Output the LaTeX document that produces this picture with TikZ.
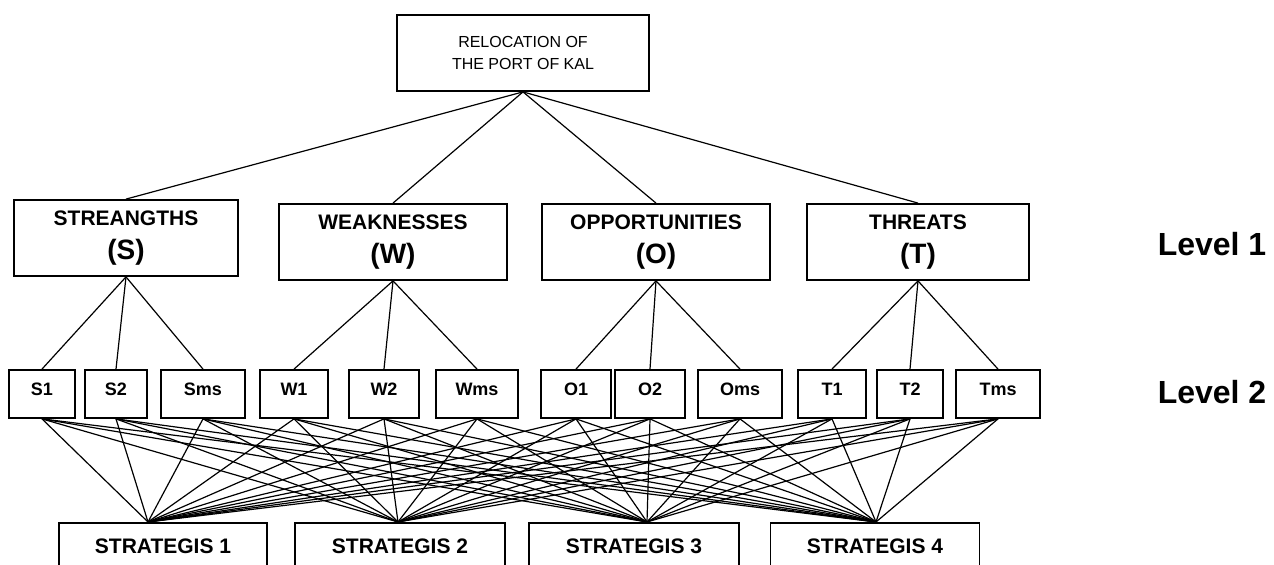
\documentclass[tikz,border=0pt]{standalone}
\usepackage{fontspec}
\setmainfont{Liberation Sans}
\usepackage{tikz}
\usetikzlibrary{positioning}

\begin{document}
\begin{tikzpicture}[x=0.5pt,y=-0.5pt,
    box/.style={draw,line width=0.9pt,inner sep=0pt,align=center},
    goal/.style={box,minimum width=126pt,minimum height=38pt,font=\fontsize{8}{11.3}\selectfont},
    factor/.style={box,minimum height=38pt,font=\fontsize{14}{17.25}\selectfont\bfseries},
    sub/.style={box,minimum height=24pt,text height=6.5pt,text depth=5pt,font=\fontsize{9}{11}\selectfont\bfseries},
    strat/.style={box,anchor=north,minimum height=23pt,font=\fontsize{10.5}{12.6}\selectfont\bfseries},
    level/.style={font=\fontsize{16}{19}\selectfont\bfseries},
    link/.style={line width=0.6pt}]
  \useasboundingbox (0,0) rectangle (1274,565);

  \node[goal] (top) at (523,53) {RELOCATION OF\\THE PORT OF KAL};

  \node[factor,minimum width=112pt] (s) at (126,238) {{\fontsize{10.5}{12.6}\selectfont STREANGTHS}\\(S)};
  \node[factor,minimum width=114pt] (w) at (393,242) {{\fontsize{10.5}{12.6}\selectfont WEAKNESSES}\\(W)};
  \node[factor,minimum width=114pt] (o) at (656,242) {{\fontsize{10.5}{12.6}\selectfont OPPORTUNITIES}\\(O)};
  \node[factor,minimum width=111pt] (t) at (918,242) {{\fontsize{10.5}{12.6}\selectfont THREATS}\\(T)};

  \node[sub,minimum width=33pt] (s1)  at (42,394)  {S1};
  \node[sub,minimum width=31pt] (s2)  at (116,394) {S2};
  \node[sub,minimum width=42pt] (sms) at (203,394) {Sms};
  \node[sub,minimum width=34pt] (w1)  at (294,394) {W1};
  \node[sub,minimum width=35pt] (w2)  at (384,394) {W2};
  \node[sub,minimum width=41pt] (wms) at (477,394) {Wms};
  \node[sub,minimum width=35pt] (o1)  at (576,394) {O1};
  \node[sub,minimum width=35pt] (o2)  at (650,394) {O2};
  \node[sub,minimum width=42pt] (oms) at (740,394) {Oms};
  \node[sub,minimum width=34pt] (t1)  at (832,394) {T1};
  \node[sub,minimum width=33pt] (t2)  at (910,394) {T2};
  \node[sub,minimum width=42pt] (tms) at (998,394) {Tms};

  \node[strat,minimum width=104pt]   (st1) at (163,522) {STRATEGIS 1};
  \node[strat,minimum width=105pt]   (st2) at (400,522) {STRATEGIS 2};
  \node[strat,minimum width=105pt]   (st3) at (634,522) {STRATEGIS 3};
  \node[strat,minimum width=104.5pt] (st4) at (875,522) {STRATEGIS 4};

  \node[level] (lev1) at (1212,244) {Level 1};
  \node[level] (lev2) at (1212,392) {Level 2};

  \foreach \f in {s,w,o,t}
    \draw[link] (top.south) -- (\f.north);
  \foreach \f in {s,w,o,t}
    \foreach \k in {1,2,ms}
      \draw[link] (\f.south) -- (\f\k.north);
  % every sub-factor feeds every strategy
  \foreach \k in {s1,s2,sms,w1,w2,wms,o1,o2,oms,t1,t2,tms}
    \foreach \j/\dx in {1/-7.5pt,2/-1pt,3/6.5pt,4/0.5pt}
      \draw[link] (\k.south) -- ([xshift=\dx]st\j.north);
\end{tikzpicture}
\end{document}
